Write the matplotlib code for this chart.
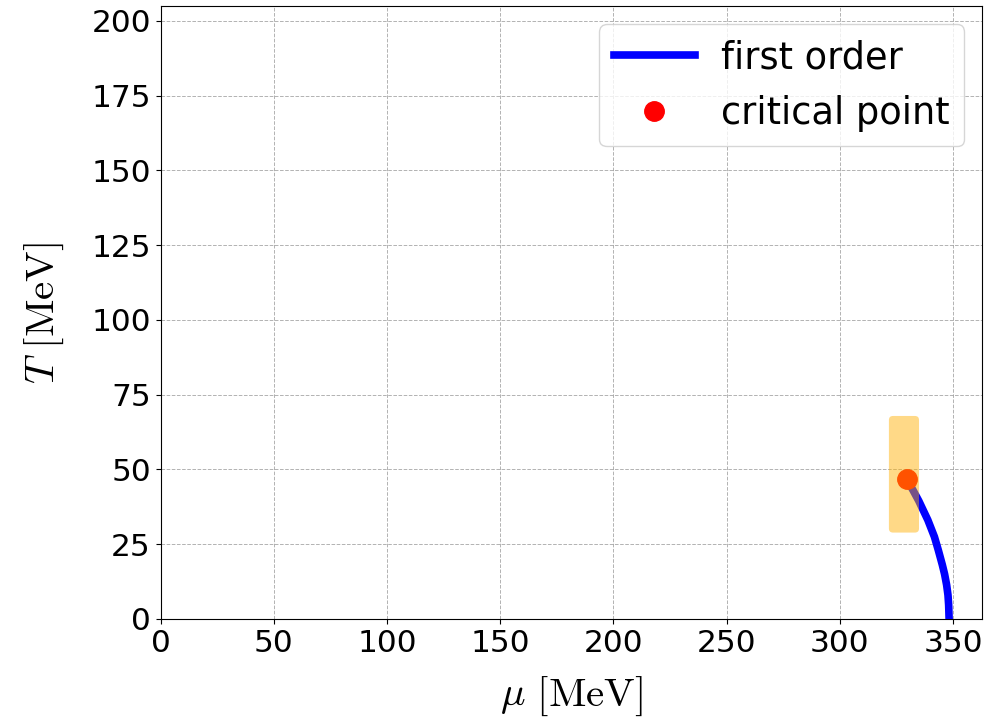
import matplotlib
matplotlib.use("Agg")
import matplotlib.pyplot as plt
from matplotlib.patches import FancyBboxPatch

# first order transition line
mu_first = [329.5, 332.4, 334.9, 338.9, 341.8, 343.5, 345.3, 346.3, 347.2, 347.8, 348.1, 348.3]
T_first = [46.8, 43.0, 39.5, 33.1, 27.5, 23.1, 18.1, 15.0, 11.4, 8.0, 4.7, 0.0]

# critical point and its uncertainty box
mu_cp = [329.5]
T_cp = [46.8]
mu_box = [321.7, 335.0]
T_box = [28.9, 67.9]

XLIM = (0, 363)
YLIM = (0, 205)

plt.rcParams['mathtext.fontset'] = 'cm'

fig = plt.figure(figsize=(10.05, 7.26), dpi=100)
ax = fig.add_axes([0.1599, 0.1474, 0.8176, 0.8443])

ax.plot(mu_first, T_first, color='blue', linewidth=5.5, label='first order', zorder=3)
ax.plot(mu_cp, T_cp, 'o', color='red', markersize=14, label='critical point', zorder=4)

# orange uncertainty box, drawn on top with transparency
box = FancyBboxPatch((mu_box[0], T_box[0]), mu_box[1] - mu_box[0], T_box[1] - T_box[0],
                     boxstyle='round,pad=0,rounding_size=1.8', mutation_aspect=0.75,
                     facecolor='#FFB000', edgecolor='none', alpha=0.47, zorder=5)
ax.add_patch(box)

ax.set_xlim(*XLIM)
ax.set_ylim(*YLIM)
ax.set_xticks(range(0, 351, 50))
ax.set_yticks(range(0, 201, 25))
ax.grid(True, linestyle='--', color='gray', linewidth=0.7, alpha=0.6)
ax.tick_params(labelsize=22.5)

ax.set_xlabel(r'$\mu\ [\mathrm{MeV}]$', fontsize=29.5, labelpad=12)
ax.set_ylabel(r'$T\ [\mathrm{MeV}]$', fontsize=29.5, labelpad=18)

ax.legend(loc='upper right', fontsize=26.5, handlelength=2.2, handletextpad=0.7)

fig.savefig('out.png', dpi=100)
